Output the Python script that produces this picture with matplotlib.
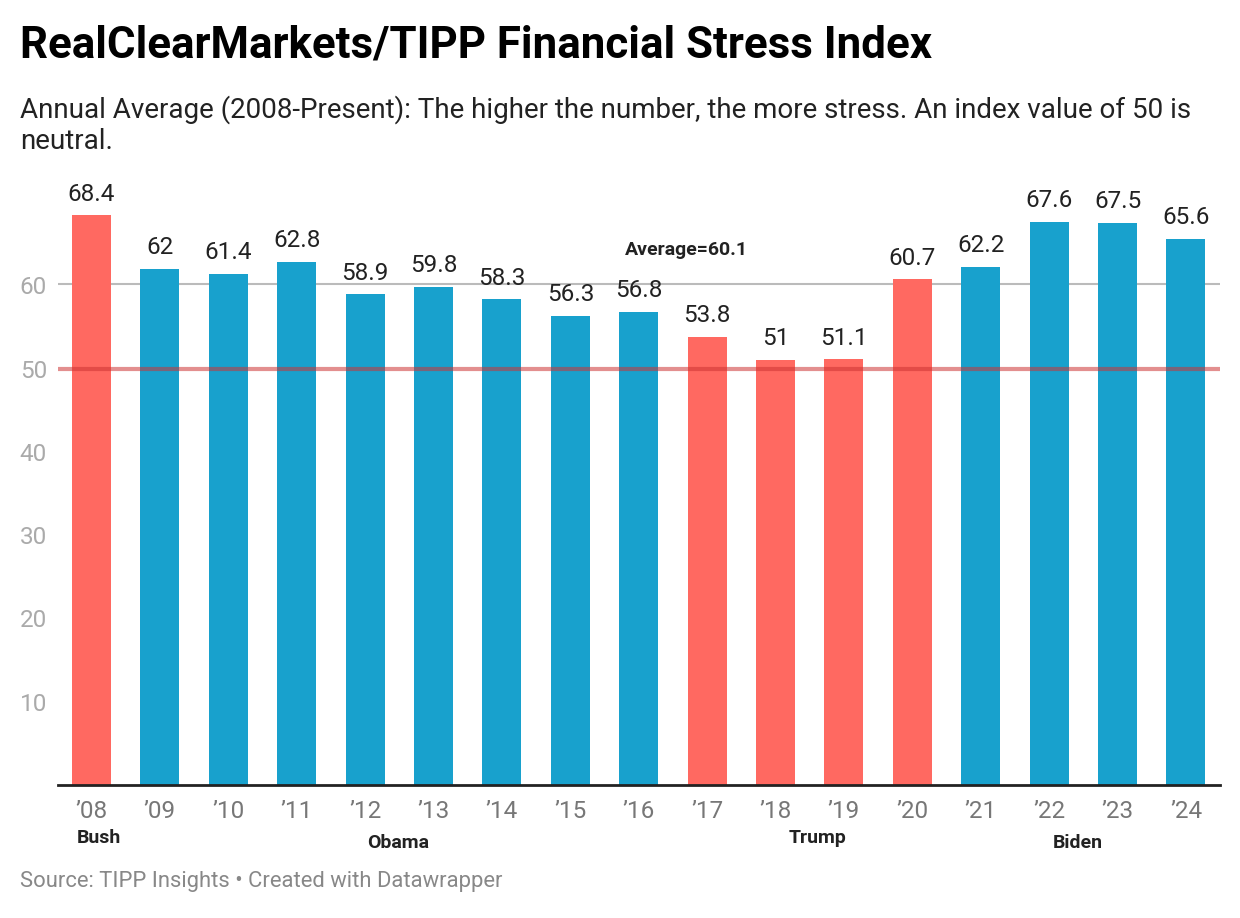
import matplotlib
matplotlib.use("Agg")
import matplotlib.pyplot as plt

plt.rcParams['font.family'] = ['Roboto', 'DejaVu Sans']

years = ["\u201908", "\u201909", "\u201910", "\u201911", "\u201912", "\u201913", "\u201914", "\u201915",
         "\u201916", "\u201917", "\u201918", "\u201919", "\u201920", "\u201921", "\u201922", "\u201923", "\u201924"]
values = [68.4, 62, 61.4, 62.8, 58.9, 59.8, 58.3, 56.3, 56.8, 53.8, 51, 51.1, 60.7, 62.2, 67.6, 67.5, 65.6]
party = ["R", "D", "D", "D", "D", "D", "D", "D", "D", "R", "R", "R", "R", "D", "D", "D", "D"]
presidents = ["Bush", "Obama", "Trump", "Biden"]
president_x = [0.1, 4.48, 10.62, 14.42]
president_low = [False, True, False, True]
average = 60.1
neutral = 50

RED = "#ff6961"
BLUE = "#18a1cd"

fig = plt.figure(figsize=(12.4, 9.18), dpi=100)
ax = fig.add_axes([0.0468, 0.1449, 0.984 - 0.0468, 0.78 - 0.1449])

x = list(range(len(values)))
colors = [RED if p == "R" else BLUE for p in party]
ax.bar(x, values, width=0.57, color=colors, zorder=2)

for i, v in enumerate(values):
    lab = ("%g" % v)
    ax.annotate(lab, xy=(i, v), xytext=(0, 7), textcoords="offset points",
                ha="center", va="bottom", fontsize=17.5, color="#222222")

# average line and neutral line
ax.axhline(average, color="#bbbbbb", lw=1.5, zorder=1)
ax.axhline(neutral, color="#cc3333", lw=3, alpha=0.55, zorder=3)
ax.text(8.7, 64.2, "Average=60.1", ha="center", va="center", fontsize=14,
        fontweight="bold", color="#222222")

ax.set_xlim(-0.49, 16.5)
ax.set_ylim(0, 70)
ax.set_yticks([10, 20, 30, 40, 50, 60])
ax.set_xticks(x)
ax.set_xticklabels(years)
ax.tick_params(axis="y", length=0, labelsize=17.5, labelcolor="#aaaaaa", pad=8)
ax.tick_params(axis="x", length=0, labelsize=17.5, labelcolor="#777777", pad=11)
for s in ["top", "right", "left"]:
    ax.spines[s].set_visible(False)
ax.spines["bottom"].set_linewidth(2)
ax.spines["bottom"].set_color("#222222")
ax.spines["bottom"].set_zorder(4)

# president labels under the axis
trans = matplotlib.transforms.blended_transform_factory(ax.transData, fig.transFigure)
for name, px, low in zip(presidents, president_x, president_low):
    yy = 1 - (843 / 918) if low else 1 - (838 / 918)
    ax.text(px, yy, name, transform=trans, ha="center", va="center",
            fontsize=14, fontweight="bold", color="#222222")

fig.text(20 / 1240, 1 - 45 / 918, "RealClearMarkets/TIPP Financial Stress Index",
         fontsize=31.6, fontweight="bold", color="#000000", va="center")
fig.text(20 / 1240, 1 - 125 / 918,
         "Annual Average (2008-Present): The higher the number, the more stress. An index value of 50 is\nneutral.",
         fontsize=20, color="#222222", va="center", linespacing=1.2)
fig.text(20 / 1240, 1 - 882 / 918, "Source: TIPP Insights \u2022 Created with Datawrapper",
         fontsize=15.8, color="#888888", va="center")

fig.savefig("out.png", dpi=100)
